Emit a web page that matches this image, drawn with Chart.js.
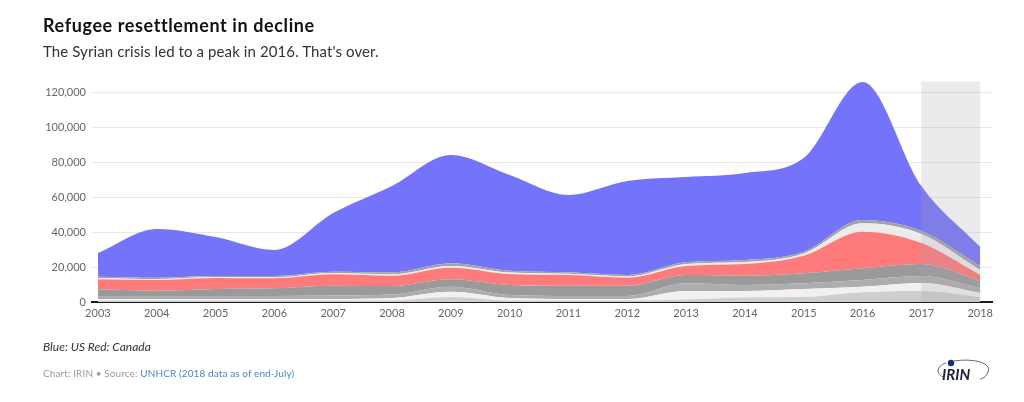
<!DOCTYPE html>
<html>
<head>
<meta charset="utf-8">
<script src="https://cdn.jsdelivr.net/npm/chart.js@4.4.1/dist/chart.umd.min.js"></script>
<style>
  html, body { margin: 0; padding: 0; background: #fff; }
  body { width: 1024px; height: 402px; position: relative; overflow: hidden; font-family: Lato, "Open Sans", sans-serif; }
  #title { position: absolute; left: 43px; top: 15px; font-size: 18px; letter-spacing: 0.6px; line-height: 20px; font-weight: 700; color: #111; white-space: nowrap; }
  #subtitle { position: absolute; left: 43px; top: 42px; font-size: 15px; line-height: 18px; letter-spacing: 0.1px; color: #333; white-space: nowrap; }
  #note { position: absolute; left: 43px; top: 340px; font-size: 12px; line-height: 14px; font-style: italic; color: #333; white-space: nowrap; }
  #source { position: absolute; left: 43px; top: 367px; font-size: 10px; line-height: 12px; letter-spacing: 0.1px; color: #999; white-space: nowrap; }
  #source span { color: #4a86c5; }
  #wrap { position: absolute; left: 0; top: 0; width: 1024px; height: 402px; }
  #logo { position: absolute; left: 930px; top: 352px; }
</style>
</head>
<body>
<div id="wrap"><canvas id="c" width="1024" height="402"></canvas></div>
<div id="title">Refugee resettlement in decline</div>
<div id="subtitle">The Syrian crisis led to a peak in 2016. That's over.</div>
<div id="note">Blue: US Red: Canada</div>
<div id="source">Chart: IRIN • Source: <span>UNHCR (2018 data as of end-July)</span></div>
<svg id="logo" width="64" height="34" viewBox="0 0 64 34">
  <path d="M 24 9 C 44 6, 62 11, 58 20 C 56 25, 52 27, 50 27" fill="none" stroke="#666" stroke-width="1"/>
  <path d="M 16 11 C 6 14, 6 22, 13 25" fill="none" stroke="#666" stroke-width="1"/>
  <circle cx="21" cy="11" r="3.2" fill="#1f2a7a"/>
  <text x="12" y="28" font-family="Lato, 'Open Sans', sans-serif" font-size="15" font-weight="700" font-style="italic" fill="#1a1f3a">IRIN</text>
</svg>
<script>
const years = [2003,2004,2005,2006,2007,2008,2009,2010,2011,2012,2013,2014,2015,2016,2017,2018];
const yTicks = [0,20000,40000,60000,80000,100000,120000];
// stacked layers, bottom to top
const otherA     = [860,860,860,860,860,860,2860,860,860,860,1430,2570,2860,5540,6290,2860];
const otherB     = [860,860,860,860,860,1430,3030,1430,860,860,4860,3710,4570,3200,4570,2290];
const otherC     = [1710,1710,1710,1710,2000,2000,2860,1710,1710,1710,4400,3430,3260,3830,4000,2860];
const australia  = [3830,3030,4000,4400,5600,4860,4230,5710,5890,5890,4740,5310,5710,6690,6860,4000];
const canada     = [5710,6110,6290,5710,6510,5890,6630,6290,6110,4570,5140,6690,10060,20910,12000,3430];
const otherF     = [740,570,570,570,740,800,970,860,690,690,1140,1140,1260,4800,5140,2860];
const otherG     = [740,740,570,740,740,1030,1540,1030,860,860,970,1140,1030,1890,1710,2290];
const us         = [13540,27830,22290,14860,33540,49430,61890,54690,44170,53710,48740,49710,53540,78860,25710,10860];
const shadeFrom = 2017, shadeTo = 2018;

const layers = [
  {name:'Other A', data: otherA, color:'#cfcfcf'},
  {name:'Other B', data: otherB, color:'#f1f1f1'},
  {name:'Other C', data: otherC, color:'#adadad'},
  {name:'Australia', data: australia, color:'#9a9a9a'},
  {name:'Canada', data: canada, color:'#ff7a7a'},
  {name:'Other F', data: otherF, color:'#ececec'},
  {name:'Other G', data: otherG, color:'#a3a3a3'},
  {name:'US', data: us, color:'#7474fa'}
];

const shadePlugin = {
  id: 'shade',
  afterDatasetsDraw(chart) {
    const {ctx, scales:{x, y}} = chart;
    const x0 = x.getPixelForValue(shadeFrom), x1 = x.getPixelForValue(shadeTo);
    const top = y.getPixelForValue(126000), bot = y.getPixelForValue(0);
    ctx.save();
    ctx.fillStyle = 'rgba(170,158,170,0.22)';
    ctx.fillRect(x0, top, x1 - x0, bot - top);
    ctx.restore();
  }
};

new Chart(document.getElementById('c'), {
  type: 'line',
  data: {
    datasets: layers.map((l, i) => ({
      label: l.name,
      data: years.map((yr, j) => ({x: yr, y: l.data[j]})),
      backgroundColor: l.color,
      borderColor: l.color,
      borderWidth: 0,
      pointRadius: 0,
      fill: i === 0 ? 'origin' : '-1',
      cubicInterpolationMode: 'monotone'
    }))
  },
  options: {
    responsive: false,
    animation: false,
    events: [],
    layout: { padding: { left: 0, right: 32, top: 81.5, bottom: 80 } },
    plugins: { legend: { display: false }, tooltip: { enabled: false } },
    scales: {
      x: {
        type: 'linear',
        min: 2002.9,
        max: 2018.2,
        ticks: { stepSize: 1, includeBounds: false, padding: 5, color: '#666', font: { family: 'Lato', size: 11 }, callback: v => String(v) },
        grid: { display: false, drawTicks: false },
        border: { display: true, color: '#1a1a1a', width: 2 },
        afterFit: s => { s.height = 20; }
      },
      y: {
        stacked: true,
        min: 0,
        max: 126000,
        afterBuildTicks: s => { s.ticks = yTicks.map(v => ({value: v})); },
        ticks: { padding: 6, color: '#666', font: { family: 'Lato', size: 11 }, callback: v => v.toLocaleString('en-US') },
        grid: { color: '#e8e8e8', lineWidth: 1, drawTicks: false },
        border: { display: false },
        afterFit: s => { s.width = 92; }
      }
    }
  },
  plugins: [shadePlugin]
});
</script>
</body>
</html>
